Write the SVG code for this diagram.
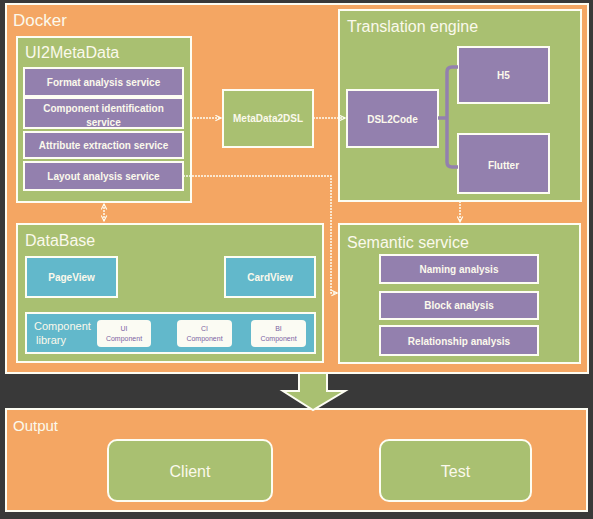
<svg xmlns="http://www.w3.org/2000/svg" width="593" height="519" viewBox="0 0 593 519">
<defs>
<style>
.bg{fill:#393939}
.org{fill:#f4a663;stroke:#fdfdf3;stroke-width:2}
.grn{fill:#a9c071;stroke:#fdfdf3;stroke-width:2}
.pur{fill:#9380ae;stroke:#fdfdf3;stroke-width:2}
.cya{fill:#62b8cb;stroke:#fdfdf3;stroke-width:2}
.wht{fill:#fbfbf3;stroke:none}
text{font-family:"Liberation Sans",Arial,sans-serif;fill:#fbf9ec}
.t1{font-size:16px}
.t2{font-size:10px;font-weight:bold;text-anchor:middle}
.t3{font-size:16px;text-anchor:middle}
.t4{font-size:7px;text-anchor:middle;fill:#7c63a3}
.con{fill:none;stroke:#fdfdf3;stroke-width:1.5;stroke-dasharray:2 1}
.brk{fill:none;stroke:#9380ae;stroke-width:3.5}
</style>
<marker id="ah" viewBox="0 0 10 10" refX="9" refY="5" markerWidth="7" markerHeight="7" orient="auto-start-reverse" markerUnits="userSpaceOnUse">
<path d="M1,1 L9,5 L1,9" fill="none" stroke="#fdfdf3" stroke-width="1.6"/>
</marker>
</defs>
<rect class="bg" x="0" y="0" width="593" height="519"/>

<g id="docker">
<rect class="org" x="6" y="4" width="582" height="369"/>
<text class="t1" x="13" y="26" style="font-size:17px">Docker</text>
</g>

<g id="ui2metadata">
<rect class="grn" x="17" y="37" width="174" height="165"/>
<text class="t1" x="25" y="58">UI2MetaData</text>
</g>
<g id="format-analysis">
<rect class="pur" x="24" y="68" width="159" height="28"/>
<text class="t2" x="103.5" y="86">Format analysis service</text>
</g>
<g id="component-identification">
<rect class="pur" x="24" y="98" width="159" height="30"/>
<text class="t2" x="103.5" y="112">Component identification</text>
<text class="t2" x="103.5" y="126">service</text>
</g>
<g id="attribute-extraction">
<rect class="pur" x="24" y="132" width="159" height="26"/>
<text class="t2" x="103.5" y="149">Attribute extraction service</text>
</g>
<g id="layout-analysis">
<rect class="pur" x="24" y="162" width="159" height="28"/>
<text class="t2" x="103.5" y="180">Layout analysis service</text>
</g>

<g id="metadata2dsl">
<rect class="grn" x="223" y="90" width="90" height="57"/>
<text class="t2" x="268" y="122">MetaData2DSL</text>
</g>

<g id="translation-engine">
<rect class="grn" x="339" y="10" width="242" height="191"/>
<text class="t1" x="347" y="32">Translation engine</text>
</g>
<g id="dsl2code">
<rect class="pur" x="347" y="90" width="91" height="57"/>
<text class="t2" x="392.5" y="123">DSL2Code</text>
</g>
<g id="h5">
<rect class="pur" x="458" y="47" width="91" height="56"/>
<text class="t2" x="503.5" y="79">H5</text>
</g>
<g id="flutter">
<rect class="pur" x="458" y="134" width="91" height="59"/>
<text class="t2" x="503.5" y="169">Flutter</text>
</g>

<g id="semantic-service">
<rect class="grn" x="339" y="224" width="241" height="139"/>
<text class="t1" x="347" y="248">Semantic service</text>
</g>
<g id="naming-analysis">
<rect class="pur" x="380" y="255" width="158" height="28"/>
<text class="t2" x="459" y="273">Naming analysis</text>
</g>
<g id="block-analysis">
<rect class="pur" x="380" y="292" width="158" height="27"/>
<text class="t2" x="459" y="309">Block analysis</text>
</g>
<g id="relationship-analysis">
<rect class="pur" x="380" y="326" width="158" height="29"/>
<text class="t2" x="459" y="345">Relationship analysis</text>
</g>

<g id="database">
<rect class="grn" x="17" y="224" width="306" height="138"/>
<text class="t1" x="25" y="246">DataBase</text>
</g>
<g id="pageview">
<rect class="cya" x="26" y="257" width="91" height="40"/>
<text class="t2" x="71.5" y="281">PageView</text>
</g>
<g id="cardview">
<rect class="cya" x="225" y="257" width="90" height="40"/>
<text class="t2" x="270" y="281">CardView</text>
</g>
<g id="component-library">
<rect class="cya" x="26" y="313" width="289" height="40"/>
<text x="34" y="330" style="font-size:11px">Component</text>
<text x="36" y="344" style="font-size:11px">library</text>
</g>
<g id="ui-component">
<rect class="wht" x="97" y="320" width="54" height="27" rx="4"/>
<text class="t4" x="124" y="331">UI</text>
<text class="t4" x="124" y="341">Component</text>
</g>
<g id="ci-component">
<rect class="wht" x="177" y="320" width="55" height="27" rx="4"/>
<text class="t4" x="204.5" y="331">CI</text>
<text class="t4" x="204.5" y="341">Component</text>
</g>
<g id="bi-component">
<rect class="wht" x="251" y="320" width="55" height="27" rx="4"/>
<text class="t4" x="278.5" y="331">BI</text>
<text class="t4" x="278.5" y="341">Component</text>
</g>

<g id="output">
<rect class="org" x="6" y="409" width="581" height="102"/>
<text class="t1" x="13" y="431" style="font-size:15px">Output</text>
</g>
<g id="client">
<rect class="grn" x="108" y="440" width="164" height="61" rx="9"/>
<text class="t3" x="190" y="477">Client</text>
</g>
<g id="test">
<rect class="grn" x="380" y="440" width="151" height="61" rx="9"/>
<text class="t3" x="455.5" y="477">Test</text>
</g>

<g id="connectors">
<path class="con" d="M191,118 L221,118" marker-end="url(#ah)"/>
<path class="con" d="M313,118 L345,118" marker-end="url(#ah)"/>
<path class="con" d="M104,204 L104,221" marker-start="url(#ah)" marker-end="url(#ah)"/>
<path class="con" d="M183,176 L331,176 L331,293 L337,293" marker-end="url(#ah)"/>
<path class="con" d="M460,201 L460,222" marker-end="url(#ah)"/>
<path class="brk" d="M438,118 L447,118 M458,67 L452,67 Q447,67 447,72 L447,162 Q447,167 452,167 L458,167"/>
<path d="M299,373 L327,373 L327,391 L345,391 L313,410 L283,391 L299,391 Z" fill="#a9c071" stroke="#fdfdf3" stroke-width="2" stroke-linejoin="miter"/>
</g>
</svg>
